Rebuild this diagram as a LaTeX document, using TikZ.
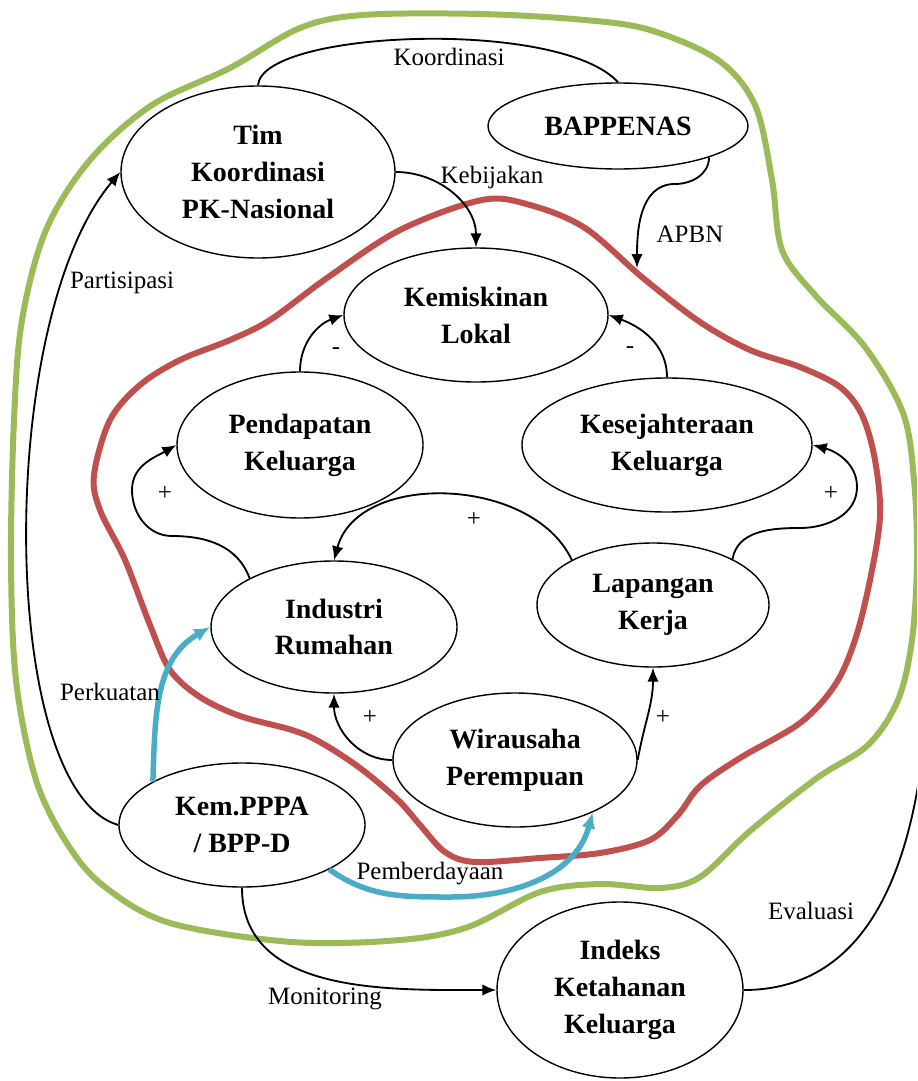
\documentclass[tikz,border=0pt]{standalone}
\usepackage{fontspec}
\setmainfont{Liberation Serif}
\usetikzlibrary{arrows.meta,shapes.geometric}
\definecolor{Leaf}{HTML}{9BBB59}
\definecolor{Brick}{HTML}{C0504D}
\definecolor{Sky}{HTML}{4BACC6}
\tikzset{
  arr/.style={-{Latex[length=2.8mm,width=2.3mm]},line width=1.05pt,draw=black},
  plain/.style={line width=1.05pt,draw=black},
  bluearr/.style={-{Latex[length=3.2mm,width=2.8mm]},line width=1.1mm,draw=Sky},
  ovalbox/.style={ellipse,draw=black,line width=0.8pt,fill=white,inner sep=0pt,align=center,font=\fontsize{15.9}{21}\selectfont\bfseries},
  lbl/.style={font=\fontsize{14.2}{17}\selectfont,inner sep=1pt},
  ring/.style={line width=1.2mm,line join=round}
}
\begin{document}
\begin{tikzpicture}[x=0.2mm,y=0.2mm]
  \useasboundingbox (0,0) rectangle (917,-1081);
  \clip (0,0) rectangle (917,-1081);
  % outer and inner boundaries
  \draw[ring,draw=Leaf] plot[smooth cycle,tension=0.55] coordinates {(363,-15) (480,-14) (585,-20) (650,-30) (718,-60) (755,-105) (772,-180) (782,-250) (815,-295) (865,-347) (903,-413) (914,-480) (917,-560) (912,-640) (898,-700) (868,-745) (817,-778) (750,-831) (700,-877) (660,-888) (600,-884) (540,-892) (468,-927) (400,-940) (292,-942) (170,-923) (105,-887) (68,-845) (36,-780) (16,-680) (11,-560) (14,-420) (22,-320) (46,-230) (90,-160) (152,-105) (230,-68) (300,-28)};
  \draw[ring,draw=Brick] plot[smooth cycle,tension=0.55] coordinates {(482,-200) (530,-205) (585,-228) (643,-278) (700,-322) (750,-350) (800,-367) (840,-387) (862,-415) (875,-460) (880,-516) (870,-580) (855,-640) (835,-685) (800,-723) (740,-758) (700,-786) (678,-815) (650,-840) (600,-853) (540,-858) (475,-862) (445,-852) (420,-825) (398,-800) (360,-768) (320,-742) (292,-730) (240,-716) (200,-697) (170,-670) (150,-625) (125,-560) (100,-510) (94,-475) (110,-420) (140,-385) (180,-360) (230,-340) (270,-320) (327,-278) (400,-230)};
  % actors and variables
  \node[ovalbox,minimum width=54.8mm,minimum height=34.4mm] (tim) at (258,-172) {Tim\\Koordinasi\\PK-Nasional};
  \node[ovalbox,minimum width=52mm,minimum height=17.2mm] (bap) at (618,-126) {BAPPENAS};
  \node[ovalbox,minimum width=52.8mm,minimum height=26.8mm] (kemis) at (476,-315) {Kemiskinan\\Lokal};
  \node[ovalbox,minimum width=49.2mm,minimum height=29.2mm] (pend) at (300,-445) {Pendapatan\\Keluarga};
  \node[ovalbox,minimum width=58mm,minimum height=26.8mm] (kes) at (667,-445) {Kesejahteraan\\Keluarga};
  \node[ovalbox,minimum width=49.2mm,minimum height=26.4mm] (ind) at (334,-627) {Industri\\Rumahan};
  \node[ovalbox,minimum width=46.4mm,minimum height=24.8mm] (lap) at (653,-605) {Lapangan\\Kerja};
  \node[ovalbox,minimum width=48.8mm,minimum height=26.8mm] (wira) at (515,-760) {Wirausaha\\Perempuan};
  \node[ovalbox,minimum width=49.2mm,minimum height=24.8mm] (kem) at (242,-825) {Kem.PPPA\\/ BPP-D};
  \node[ovalbox,minimum width=49.2mm,minimum height=35.2mm] (idx) at (620,-990) {Indeks\\Ketahanan\\Keluarga};
  \coordinate (apbnend) at (637,-268);
  \coordinate (evaltop) at (930,-620);
  % links
  \draw[plain] (tim.north) .. controls (262,-30) and (560,-18) .. (bap.north);
  \draw[arr] (tim.east) to[out=0,in=90] (kemis.north);
  \draw[arr] (bap.-19) to[out=-90,in=0] (675,-184) to[out=180,in=90] (apbnend);
  \draw[arr] (kem.west) .. controls (-2,-790) and (-5,-320) .. (tim.west);
  \draw[arr] (kem.south) to[out=-90,in=180] (idx.west);
  \draw[plain] (idx.east) to[out=0,in=-90] (evaltop);
  \draw[arr] (pend.north) to[out=90,in=200] (kemis.west);
  \draw[arr] (kes.north) to[out=90,in=-20] (kemis.east);
  \draw[arr] (ind.150) to[out=110,in=0] (172,-536) to[out=180,in=-90] (132,-490) to[out=90,in=210] (pend.west);
  \draw[arr] (lap.30) to[out=80,in=180] (800,-528) to[out=0,in=-90] (857,-487) to[out=90,in=-15] (kes.east);
  \draw[arr] (lap.151) to[out=115,in=75] (ind.north);
  \draw[arr] (wira.west) to[out=180,in=-90] (ind.south);
  \draw[arr] (wira.east) to[out=80,in=-90] (lap.south);
  \draw[bluearr] (kem.154) to[out=88,in=210] (ind.west);
  \draw[bluearr] (kem.-27) to[out=-35,in=180] (450,-897) to[out=0,in=-105] (wira.-34);
  % labels
  \node[lbl] (koordlbl) at (449,-57) {Koordinasi};
  \node[lbl] (kebijlbl) at (492,-177) {Kebijakan};
  \node[lbl] (apbnlbl) at (690,-234) {APBN};
  \node[lbl] (partlbl) at (122,-283) {Partisipasi};
  \node[lbl] (perklbl) at (110,-692) {Perkuatan};
  \node[lbl] (pemblbl) at (430,-874) {Pemberdayaan};
  \node[lbl] (monlbl) at (325,-999) {Monitoring};
  \node[lbl] (evallbl) at (811,-911) {Evaluasi};
  \node[lbl] (minusA) at (336,-351) {-};
  \node[lbl] (minusB) at (630,-350) {-};
  \node[lbl] (plusA) at (165,-493) {+};
  \node[lbl] (plusB) at (474,-519) {+};
  \node[lbl] (plusC) at (831,-493) {+};
  \node[lbl] (plusD) at (370,-717) {+};
  \node[lbl] (plusE) at (663,-717) {+};
\end{tikzpicture}
\end{document}
